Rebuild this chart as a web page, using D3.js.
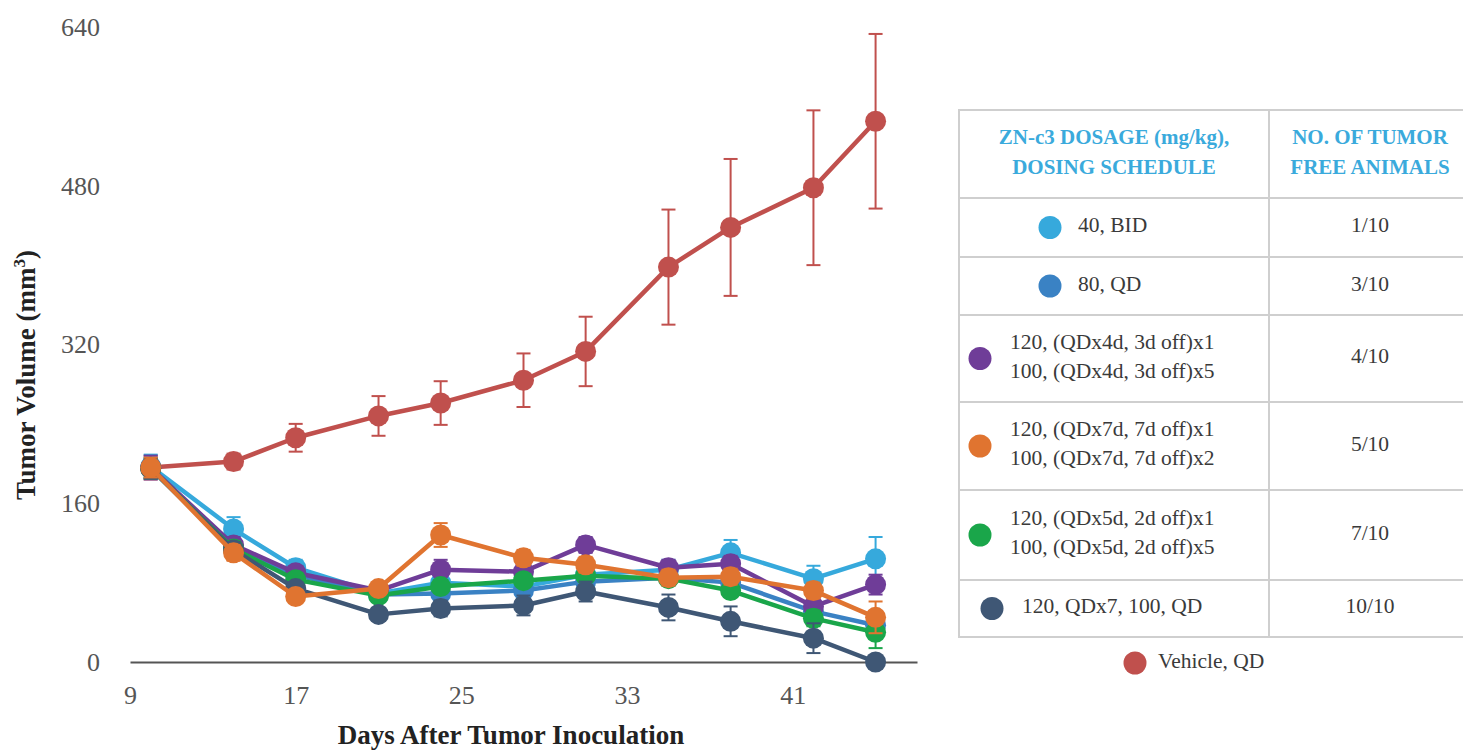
<!DOCTYPE html>
<html>
<head>
<meta charset="utf-8">
<script src="https://cdn.jsdelivr.net/npm/d3@7"></script>
<style>
  html, body { margin: 0; padding: 0; background: #fff; }
  svg { display: block; }
</style>
</head>
<body>
<svg id="chart" width="1463" height="751"></svg>
<script>
// ---- data ----
const days = [10, 14, 17, 21, 24, 28, 31, 35, 38, 42, 45];
const xTicks = [9, 17, 25, 33, 41];
const yTicks = [0, 160, 320, 480, 640];

const vehicleVals = [196, 202, 226, 248, 261, 284, 313, 398, 438, 478, 545];
const vehicleErr  = [12, 8, 14, 20, 22, 27, 35, 58, 69, 78, 88];

const bid40Vals   = [197, 134, 95, 69, 80, 76, 88, 93, 110, 84, 104];
const bid40Err    = [12, 12, 8, 6, 8, 8, 8, 10, 13, 13, 22];

const qd80Vals    = [196, 115, 88, 68, 69, 72, 81, 85, 80, 51, 37];
const qd80Err     = [10, 8, 6, 6, 6, 6, 6, 8, 8, 8, 8];

const q4dVals     = [196, 118, 90, 72, 93, 91, 118, 95, 99, 56, 78];
const q4dErr      = [12, 8, 6, 6, 10, 8, 8, 8, 8, 8, 10];

const q5dVals     = [195, 114, 83, 67, 76, 82, 87, 84, 72, 44, 30];
const q5dErr      = [10, 8, 6, 6, 6, 6, 6, 6, 6, 8, 16];

const qdx7Vals    = [195, 113, 74, 48, 54, 57, 71, 55, 41, 24, 0];
const qdx7Err     = [10, 8, 6, 6, 8, 10, 10, 13, 15, 15, 0];

const q7dVals     = [196, 110, 66, 74, 128, 105, 98, 85, 86, 72, 45];
const q7dErr      = [10, 8, 6, 6, 12, 8, 8, 8, 8, 8, 16];

const seriesNames  = ["Vehicle, QD", "40, BID", "80, QD", "120/100 QDx4d", "120/100 QDx5d", "120, QDx7, 100, QD", "120/100 QDx7d"];
const seriesColors = ["#c0504d", "#36a9dc", "#3a82c4", "#6f3d98", "#1aa64a", "#3f5775", "#e07430"];
const seriesVals   = [vehicleVals, bid40Vals, qd80Vals, q4dVals, q5dVals, qdx7Vals, q7dVals];
const seriesErrs   = [vehicleErr, bid40Err, qd80Err, q4dErr, q5dErr, qdx7Err, q7dErr];

// legend table
const tableHeader1 = ["ZN-c3 DOSAGE (mg/kg),", "DOSING SCHEDULE"];
const tableHeader2 = ["NO. OF TUMOR", "FREE ANIMALS"];
const tableRows = [
  { color: "#36a9dc", lines: ["40, BID"], free: "1/10", single: true },
  { color: "#3a82c4", lines: ["80, QD"], free: "3/10", single: true },
  { color: "#6f3d98", lines: ["120, (QDx4d, 3d off)x1", "100, (QDx4d, 3d off)x5"], free: "4/10" },
  { color: "#e07430", lines: ["120, (QDx7d, 7d off)x1", "100, (QDx7d, 7d off)x2"], free: "5/10" },
  { color: "#1aa64a", lines: ["120, (QDx5d, 2d off)x1", "100, (QDx5d, 2d off)x5"], free: "7/10" },
  { color: "#3f5775", lines: ["120, QDx7, 100, QD"], free: "10/10", single: true, wide: true }
];
const vehicleLabel = "Vehicle, QD";

// ---- chart ----
const svg = d3.select("#chart");
const serif = "'Liberation Serif', 'Times New Roman', serif";

const x = d3.scaleLinear().domain([9, 47]).range([130, 917]);
const y = d3.scaleLinear().domain([0, 640]).range([662, 27]);

// y axis (labels only)
const yAxis = svg.append("g").attr("transform", "translate(130,0)")
  .call(d3.axisLeft(y).tickValues(yTicks).tickSize(0).tickPadding(30));
yAxis.select(".domain").remove();
yAxis.selectAll("text").attr("font-family", serif).attr("font-size", 26).attr("fill", "#555");

// x axis
const xAxis = svg.append("g").attr("transform", "translate(0,662)")
  .call(d3.axisBottom(x).tickValues(xTicks).tickSize(0).tickPadding(24).tickFormat(d3.format("d")));
xAxis.select(".domain").attr("stroke", "#555").attr("stroke-width", 2);
xAxis.selectAll("text").attr("font-family", serif).attr("font-size", 26).attr("fill", "#555");

// axis titles
svg.append("text").attr("x", 511).attr("y", 744).attr("text-anchor", "middle")
  .attr("font-family", serif).attr("font-weight", "bold").attr("font-size", 27).attr("fill", "#222")
  .text("Days After Tumor Inoculation");

const yt = svg.append("text").attr("transform", "translate(35,375) rotate(-90)").attr("text-anchor", "middle")
  .attr("font-family", serif).attr("font-weight", "bold").attr("font-size", 27).attr("fill", "#222");
yt.append("tspan").text("Tumor Volume (mm");
yt.append("tspan").attr("font-size", 17).attr("dy", -10).text("3");
yt.append("tspan").attr("dy", 10).text(")");

// series
const line = d3.line().x((d, i) => x(days[i])).y(d => y(d));
seriesVals.forEach((vals, s) => {
  const col = seriesColors[s];
  const g = svg.append("g");
  const errs = seriesErrs[s];
  // error bars
  vals.forEach((v, i) => {
    const e = errs[i];
    if (e <= 0) return;
    const cx = x(days[i]);
    g.append("line").attr("x1", cx).attr("x2", cx).attr("y1", y(v - e)).attr("y2", y(v + e))
      .attr("stroke", col).attr("stroke-width", 2);
    [v - e, v + e].forEach(t => {
      g.append("line").attr("x1", cx - 7).attr("x2", cx + 7).attr("y1", y(t)).attr("y2", y(t))
        .attr("stroke", col).attr("stroke-width", 2);
    });
  });
  g.append("path").datum(vals).attr("d", line).attr("fill", "none")
    .attr("stroke", col).attr("stroke-width", 4.5).attr("stroke-linejoin", "round");
  g.selectAll("circle").data(vals).enter().append("circle")
    .attr("cx", (d, i) => x(days[i])).attr("cy", d => y(d)).attr("r", 10.5).attr("fill", col);
});

// ---- legend table ----
const tL = 959, tM = 1269, tR = 1471;
const rowEdges = [110, 198, 257, 315, 402, 490, 580, 637];
const tg = svg.append("g");
const bc = "#cfcfcf";
tg.append("rect").attr("x", tL).attr("y", rowEdges[0]).attr("width", tR - tL).attr("height", rowEdges[7] - rowEdges[0])
  .attr("fill", "none").attr("stroke", bc).attr("stroke-width", 2);
rowEdges.slice(1, 7).forEach(yy => {
  tg.append("line").attr("x1", tL).attr("x2", tR).attr("y1", yy).attr("y2", yy).attr("stroke", bc).attr("stroke-width", 2);
});
tg.append("line").attr("x1", tM).attr("x2", tM).attr("y1", rowEdges[0]).attr("y2", rowEdges[7]).attr("stroke", bc).attr("stroke-width", 2);

const hdrColor = "#3aaadc";
[tableHeader1, tableHeader2].forEach((lines, c) => {
  const cx = c === 0 ? 1114 : 1370;
  lines.forEach((t, k) => {
    tg.append("text").attr("x", cx).attr("y", 139 + k * 30).attr("text-anchor", "middle").attr("dominant-baseline", "middle")
      .attr("font-family", serif).attr("font-weight", "bold").attr("font-size", 21).attr("fill", hdrColor).text(t);
  });
});

tableRows.forEach((r, i) => {
  const top = rowEdges[i + 1], bot = rowEdges[i + 2];
  const cy = (top + bot) / 2;
  let circX, textX;
  if (r.single && !r.wide) { circX = 1050; textX = 1078; }
  else if (r.wide) { circX = 992; textX = 1022; }
  else { circX = 980; textX = 1010; }
  tg.append("circle").attr("cx", circX).attr("cy", cy).attr("r", 11.5).attr("fill", r.color);
  r.lines.forEach((t, k) => {
    const ty = r.lines.length === 1 ? cy : cy - 14.5 + k * 29;
    tg.append("text").attr("x", textX).attr("y", ty).attr("dominant-baseline", "middle")
      .attr("font-family", serif).attr("font-size", 21.5).attr("fill", "#3a3a3a").text(t);
  });
  tg.append("text").attr("x", 1370).attr("y", cy).attr("text-anchor", "middle").attr("dominant-baseline", "middle")
    .attr("font-family", serif).attr("font-size", 21.5).attr("fill", "#3a3a3a").text(r.free);
});

tg.append("circle").attr("cx", 1135).attr("cy", 663).attr("r", 11.5).attr("fill", "#c0504d");
tg.append("text").attr("x", 1158).attr("y", 663).attr("dominant-baseline", "middle")
  .attr("font-family", serif).attr("font-size", 21.5).attr("fill", "#3a3a3a").text(vehicleLabel);
</script>
</body>
</html>
